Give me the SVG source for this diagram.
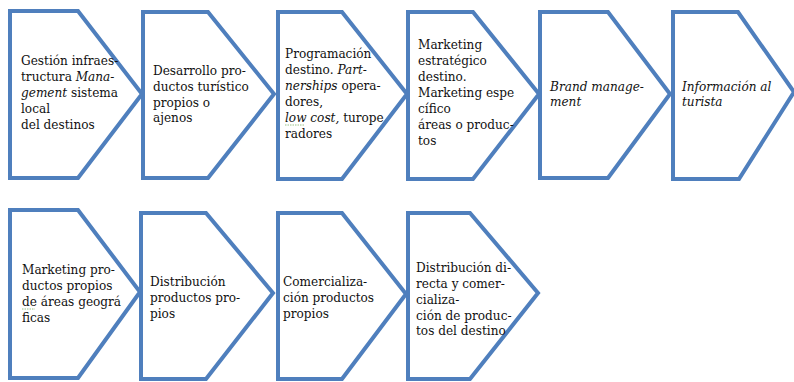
<svg xmlns="http://www.w3.org/2000/svg" width="794" height="382" viewBox="0 0 794 382">
<style>
.chev{fill:#ffffff;stroke:#4f7fbd;stroke-width:4;stroke-linejoin:miter}
.t{font-family:"DejaVu Serif","Liberation Serif",serif;font-size:12.1px;fill:#111111}
.i{font-style:italic}
.sq{fill:none;stroke:#7fb26a;stroke-width:0.8;stroke-dasharray:1.5 1}
</style>
<rect width="794" height="382" fill="#ffffff"/>
<g id="connectors"/>
<g id="n1">
<polygon class="chev" points="10,11 78,11 142,94 78,178 10,178"/>
<text class="t" x="21" y="65">Gestión infraes-</text>
<text class="t" x="21" y="81">tructura <tspan class="i">Mana-</tspan></text>
<text class="t" x="21" y="97"><tspan class="i">gement</tspan> sistema</text>
<text class="t" x="21" y="113">local</text>
<text class="t" x="21" y="129">del destinos</text>
</g>
<g id="n2">
<polygon class="chev" points="143,12 208,12 274,94 208,178 143,178"/>
<text class="t" x="153" y="75">Desarrollo pro-</text>
<text class="t" x="153" y="91">ductos turístico</text>
<text class="t" x="153" y="107">propios o</text>
<text class="t" x="153" y="122">ajenos</text>
</g>
<g id="n3">
<polygon class="chev" points="278,12 342,12 407,94 342,179 278,179"/>
<text class="t" x="285" y="58">Programación</text>
<text class="t" x="285" y="74">destino. <tspan class="i">Part-</tspan></text>
<text class="t" x="285" y="90"><tspan class="i">nerships</tspan> opera-</text>
<text class="t" x="285" y="106">dores,</text>
<text class="t" x="285" y="122"><tspan class="i">low cost,</tspan> turope</text>
<path class="sq" d="M285,125 H305"/>
<text class="t" x="285" y="138">radores</text>
</g>
<g id="n4">
<polygon class="chev" points="408,12 473,12 539,94 473,179 408,179"/>
<text class="t" x="418" y="49">Marketing</text>
<text class="t" x="418" y="65">estratégico</text>
<text class="t" x="418" y="81">destino.</text>
<text class="t" x="418" y="97">Marketing espe</text>
<text class="t" x="418" y="113">cífico</text>
<text class="t" x="418" y="129">áreas o produc-</text>
<text class="t" x="418" y="145">tos</text>
</g>
<g id="n5">
<polygon class="chev" points="540,12 608,12 670,94 608,178 540,178"/>
<text class="t i" x="550" y="91">Brand manage-</text>
<text class="t i" x="550" y="106">ment</text>
</g>
<g id="n6">
<polygon class="chev" points="673,12 738,12 794,92 739,179 673,179"/>
<text class="t i" x="682" y="91">Información al</text>
<text class="t i" x="682" y="106">turista</text>
</g>
<g id="n7">
<polygon class="chev" points="10,210 78,210 140,292 78,378 10,378"/>
<text class="t" x="22" y="274">Marketing pro-</text>
<text class="t" x="22" y="290">ductos propios</text>
<text class="t" x="22" y="306">de áreas geográ</text>
<path class="sq" d="M22,309 H35"/>
<text class="t" x="22" y="322">ficas</text>
</g>
<g id="n8">
<polygon class="chev" points="141,213 206,213 273,293 206,379 141,379"/>
<text class="t" x="150" y="286">Distribución</text>
<text class="t" x="150" y="302">productos pro-</text>
<text class="t" x="150" y="318">pios</text>
</g>
<g id="n9">
<polygon class="chev" points="278,213 342,213 406,294 342,379 278,379"/>
<text class="t" x="283" y="286">Comercializa-</text>
<text class="t" x="283" y="302">ción productos</text>
<text class="t" x="283" y="318">propios</text>
</g>
<g id="n10">
<polygon class="chev" points="408,213 470,213 538,293 470,379 408,379"/>
<text class="t" x="416" y="272">Distribución di-</text>
<text class="t" x="416" y="288">recta y comer-</text>
<text class="t" x="416" y="304">cializa-</text>
<text class="t" x="416" y="320">ción de produc-</text>
<text class="t" x="416" y="335">tos del destino</text>
</g>
</svg>
